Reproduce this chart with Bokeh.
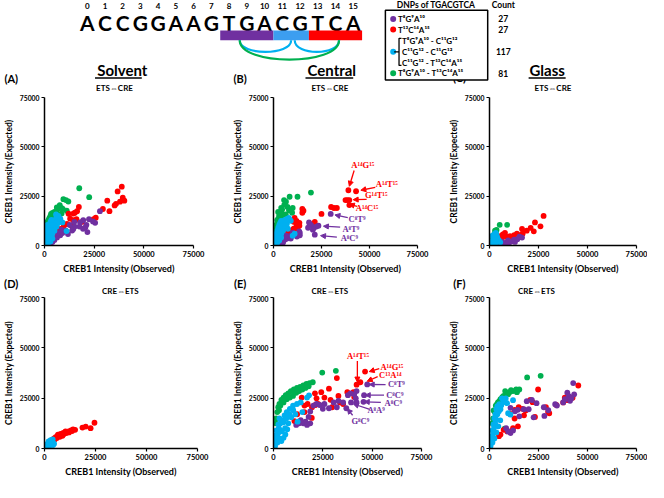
from bokeh.plotting import figure
from bokeh.layouts import column, row
from bokeh.models import Range1d, FixedTicker, NumeralTickFormatter, Arrow, NormalHead, ColumnDataSource
from bokeh.core.properties import value
from bokeh.embed import file_html
from bokeh.resources import INLINE

FONT = "Lato"
SERIF = "Liberation Serif"
PURPLE = "#7030A0"
RED = "#FF0000"
BLUE = "#00B0F0"
GREEN = "#00B050"
BARBLUE = "#3C9EF0"

# ---------------- header data ----------------
seq_letters = list("ACCGGAAGTGACGTCA")
seq_pos = list(range(16))
seg_start = [8, 11, 13]
seg_end = [10, 12, 15]
seg_colors = [PURPLE, BARBLUE, RED]
arc_from = [8.6, 11.7, 8.6]
arc_to = [11.5, 14.2, 14.2]
arc_depth = [12, 12, 20]
arc_colors = [BLUE, BLUE, GREEN]

legend_labels = ["T⁸G⁹A¹⁰", "T¹³C¹⁴A¹⁵", "T⁸G⁹A¹⁰ - C¹¹G¹²", "C¹¹G¹² - C¹¹G¹²",
                 "C¹¹G¹² - T¹³C¹⁴A¹⁵", "T⁸G⁹A¹⁰ - T¹³C¹⁴A¹⁵"]
legend_counts = ["27", "27", "117", "81"]
legend_colors = [PURPLE, RED, BLUE, GREEN]

# ---------------- panel data ----------------
A_green_x = [17500, 22500, 9500, 10800, 12000, 7700, 8500, 6500, 11200, 9200, 5000, 4000, 3300, 4600, 6000, 3000, 2500, 2000, 1500, 1100, 800, 500, 300, 7200, 8600, 5600, 2000, 6200, 3000, 1200]
A_green_y = [29000, 24500, 23500, 23000, 22300, 20500, 19000, 18200, 17600, 18500, 17000, 16500, 16000, 15500, 16700, 15000, 14000, 13000, 12000, 10500, 8500, 7000, 5500, 15200, 16200, 14600, 11000, 19300, 13500, 9300]
A_blue_x = [500, 1000, 1500, 2000, 2500, 3000, 3500, 4000, 4500, 5000, 5500, 6000, 6500, 7000, 5800, 1000, 1500, 2000, 2500, 3000, 3500, 500, 2000, 3000, 4000, 5000, 6000, 6500, 7500, 8000, 11100, 9000, 1000, 2000, 3000, 4000, 200, 400, 1500]
A_blue_y = [1000, 2500, 4000, 5500, 7000, 8000, 9500, 10500, 11500, 12500, 13000, 14000, 14500, 15000, 15700, 5000, 7000, 9000, 10500, 12000, 13000, 3000, 3000, 4000, 6000, 7500, 9500, 11000, 12000, 13500, 7300, 11700, 500, 1500, 2000, 3500, 6500, 8000, 10500]
A_purple_x = [27900, 24400, 22400, 21100, 19500, 20600, 21600, 17600, 15200, 17900, 12700, 13900, 10600, 9000, 7900, 6300, 5000, 4000, 3000, 15000, 11800, 25500, 8500, 14500, 19400, 6800, 2200]
A_purple_y = [17400, 12200, 13300, 10500, 12800, 9200, 6800, 9600, 9600, 11700, 10400, 7600, 7600, 6300, 5200, 4100, 2800, 1800, 1000, 12000, 5800, 11500, 8000, 8400, 8500, 6200, 600]
A_red_x = [38900, 36800, 39400, 40200, 38000, 36000, 35300, 31600, 32700, 29400, 25800, 24700, 17300, 16400, 15300, 14500, 12100, 12900, 14500, 16100, 11300, 9700, 8100, 6800, 5600, 13700, 19000]
A_red_y = [29800, 27400, 24200, 22700, 22200, 21100, 20300, 22700, 17400, 18500, 14100, 13300, 19500, 17400, 16600, 16200, 16100, 13600, 12800, 13300, 10900, 10000, 8400, 7600, 6000, 10000, 12000]

B_green_x = [19500, 12500, 8400, 6500, 5600, 7300, 4500, 8100, 3500, 4800, 2900, 4000, 1900, 3200, 1300, 600, 300, 1900, 6400, 9700, 4000, 2400, 10000, 5500, 1000, 2500, 700]
B_green_y = [26800, 24700, 24700, 22200, 20600, 19500, 18200, 17800, 16600, 15700, 14900, 14100, 12800, 11700, 10500, 7600, 5200, 9200, 15700, 16600, 19000, 17000, 19000, 23000, 8500, 13500, 9500]
B_blue_x = [500, 1000, 1500, 2000, 2500, 3000, 3500, 4000, 4500, 5000, 5500, 6000, 7000, 8000, 8500, 1000, 1500, 2000, 2500, 3000, 3500, 4000, 2000, 3000, 4000, 5000, 6000, 7000, 6000, 11000, 10000, 7500, 1000, 2000, 3000, 4000, 9000]
B_blue_y = [1000, 2000, 3500, 5000, 6500, 8000, 9000, 10000, 11000, 12000, 12500, 13000, 13500, 14000, 13000, 4000, 6000, 7500, 9000, 10500, 11500, 12500, 3000, 4500, 6000, 7500, 9000, 11000, 11500, 6000, 5000, 8500, 1000, 1500, 2500, 4000, 12500]
B_purple_x = [29800, 18500, 19500, 21000, 22300, 23400, 20500, 21500, 13700, 13700, 12200, 9500, 8500, 7000, 6000, 5000, 4000, 3000, 2500, 10000, 13400, 6500, 9000, 11500, 5000, 3500, 18000]
B_purple_y = [16000, 11700, 10500, 9000, 9600, 10000, 8000, 5500, 6500, 5200, 4500, 5000, 4800, 3500, 3000, 2500, 2000, 1500, 1000, 6500, 7200, 5000, 3500, 5500, 1500, 3000, 9000]
B_red_x = [39000, 43000, 37500, 38500, 39500, 39500, 30000, 31500, 33000, 25000, 15000, 15600, 15000, 11000, 12000, 10500, 13500, 12000, 13500, 12500, 10500, 9000, 7500, 6500, 5500, 21500, 20500]
B_red_y = [28000, 27500, 23000, 23000, 23000, 20500, 19500, 19000, 19000, 16000, 18500, 17600, 16600, 14000, 12500, 12000, 11500, 10500, 10000, 8500, 8500, 7500, 7000, 6000, 5000, 12000, 11000]

B_note_text = ["A¹⁴G¹⁵", "A¹⁴T¹⁵", "G¹⁴T¹⁵", "A¹⁴C¹⁵", "C⁸T⁹", "A⁸T⁹", "A⁸C⁹"]
B_note_color = [RED, RED, RED, RED, PURPLE, PURPLE, PURPLE]
B_note_x = [46500, 59000, 53500, 48700, 43500, 40300, 39500]
B_note_y = [40900, 31200, 25500, 19000, 13300, 8400, 3900]
B_arrow_x0 = [42000, 53000, 48500, 43500, 38700, 34700, 33000]
B_arrow_y0 = [38000, 29500, 23400, 19800, 14100, 9300, 4200]
B_arrow_x1 = [39500, 45500, 41500, 39500, 32000, 26000, 24500]
B_arrow_y1 = [30000, 28000, 23200, 21000, 15500, 9800, 5000]

C_green_x = [5200, 9000, 3600, 3200, 2400, 2800, 1800, 1500]
C_green_y = [10500, 10500, 7900, 6900, 5600, 7500, 4500, 3800]
C_blue_x = [800, 1600, 2000, 2700, 3200, 2000, 1100, 4000, 4700, 5500, 3000, 1500, 2500, 3600, 500, 2200, 3000]
C_blue_y = [800, 2400, 4000, 5300, 6400, 2700, 1600, 4000, 2700, 1600, 3500, 5000, 5800, 5200, 2000, 1200, 800]
C_purple_x = [5500, 8700, 11800, 14200, 16600, 7000, 10000, 6300, 9500, 12500, 15300, 4500, 13000, 3800]
C_purple_y = [1100, 1600, 2100, 3200, 4000, 700, 1300, 2000, 2600, 3000, 4500, 1800, 1800, 900]
C_red_x = [27600, 23200, 26000, 21000, 22600, 16600, 16900, 15300, 12600, 11500, 9500, 7900, 6800, 5500, 4900, 6300, 4000, 19000, 14000, 10500, 8500]
C_red_y = [15000, 11700, 9700, 8900, 7200, 8400, 6000, 5300, 5300, 4300, 4000, 6400, 5600, 4800, 4000, 3200, 2700, 7500, 6000, 4800, 4500]

D_blue_x = [1600, 2400, 3200, 4000, 2800, 1300, 4700, 2000, 3500, 1000, 2500, 3800, 500, 4200, 1800, 3000]
D_blue_y = [1300, 2900, 3700, 4500, 2100, 800, 2400, 3500, 2500, 2000, 1500, 3400, 500, 1700, 600, 4200]
D_red_x = [24500, 22600, 20200, 18600, 15000, 13000, 11800, 10700, 9500, 8400, 7100, 6300, 5500, 4700, 4000, 10300, 9200, 7900, 6600, 12000, 8800, 6000, 14000, 13500, 7500, 5000, 3500]
D_red_y = [12800, 10100, 10900, 10400, 9300, 9000, 8500, 7700, 7200, 6900, 6400, 6100, 5600, 5000, 4300, 8500, 7700, 7200, 6900, 8000, 6300, 5200, 9500, 8700, 5800, 4500, 3800]

E_green_x = [1900, 2400, 3000, 4000, 5100, 6200, 7500, 8800, 10300, 11900, 13500, 15100, 16700, 18300, 19900, 3500, 5100, 6700, 8300, 9900, 11500, 13000, 14600, 16200, 17800, 1400, 1100, 24700, 31600, 2800, 4500, 7000, 10500, 13800, 17000, 12000]
E_green_y = [18100, 20500, 22100, 24200, 25300, 26500, 27400, 28500, 29300, 30100, 30600, 31300, 32100, 32500, 32900, 21300, 22900, 24500, 25300, 26100, 27700, 28500, 29300, 30100, 30900, 14900, 12500, 37700, 38600, 19000, 23000, 25800, 28000, 29800, 31500, 29000]
E_blue_x = [800, 1400, 1100, 1900, 2400, 2700, 3500, 4300, 5600, 6700, 8300, 9900, 11900, 13800, 17000, 18000, 4300, 5900, 7500, 4000, 5100, 2000, 3000, 3500, 5000, 6500, 8000, 10000, 12200, 14600, 2500, 1500, 3000, 6000, 7000, 9000, 11000, 1200]
E_blue_y = [1300, 2900, 4500, 6100, 7700, 10100, 12500, 14100, 16500, 18100, 19700, 21300, 22100, 22900, 25300, 26400, 8500, 10100, 12500, 3700, 5300, 3000, 5000, 9000, 13000, 15000, 17000, 19000, 13300, 18100, 12000, 9000, 15000, 7000, 9500, 15500, 17000, 6500]
E_purple_x = [47500, 42100, 40900, 41700, 42100, 39000, 37700, 35300, 32100, 32900, 30500, 36900, 39300, 21800, 20200, 18600, 17800, 16200, 15100, 13000, 11500, 13800, 18600, 17000, 25000, 23400, 25800, 28100, 45900, 45600]
E_purple_y = [31800, 28500, 26900, 24900, 22900, 27400, 26500, 22900, 20500, 23700, 22900, 20000, 22900, 22100, 21300, 18400, 15700, 13300, 12500, 12500, 11700, 14100, 12500, 11700, 19700, 21600, 22100, 20000, 26500, 23200]
E_red_x = [46400, 44000, 42100, 40500, 37400, 32100, 28100, 25800, 24200, 21800, 21000, 22600, 17300, 15700, 15700, 19400, 14300, 28900, 29700, 32900, 33700, 35300, 40900, 10600, 19500, 12000, 21000]
E_red_y = [38200, 32900, 31700, 28000, 28000, 35000, 29700, 25300, 28000, 24900, 27400, 22100, 22100, 21300, 18100, 15200, 25300, 24200, 20500, 26100, 22900, 22100, 25600, 13600, 20500, 17000, 21500]

E_note_text = ["A¹⁴T¹⁵", "A¹⁴G¹⁵", "C¹³A¹⁴", "C⁸T⁹", "C⁸C⁹", "A⁸C⁹", "A⁸A⁹", "G⁸C⁹"]
E_note_color = [RED, RED, RED, PURPLE, PURPLE, PURPLE, PURPLE, PURPLE]
E_note_x = [42800, 60000, 59200, 62300, 61500, 60700, 52000, 44000]
E_note_y = [45700, 40600, 36500, 32200, 26500, 22400, 18900, 13600]
E_arrow_x0 = [42500, 53600, 52800, 56800, 56000, 54400, 48800, 40100]
E_arrow_y0 = [43400, 39700, 35700, 31700, 26500, 22900, 19400, 16500]
E_arrow_x1 = [42500, 48500, 47500, 48500, 46500, 46000, 40500, 37400]
E_arrow_y1 = [33000, 38200, 33400, 31800, 26500, 23200, 22100, 19700]

F_green_x = [19200, 26100, 2100, 3200, 4300, 5600, 7200, 8800, 10400, 12000, 13600, 15200, 8000, 5000, 3800, 2700, 1900, 1500, 7700, 6500, 9500, 11000, 14000, 4500]
F_green_y = [35300, 36100, 18900, 21300, 22900, 24500, 26100, 27400, 28100, 28500, 29300, 29300, 28500, 23500, 22000, 18100, 14900, 12500, 9800, 25500, 27000, 29000, 28000, 21000]
F_blue_x = [500, 800, 1100, 1600, 2100, 2400, 2900, 3400, 4000, 4800, 5600, 6400, 8300, 10700, 1000, 1500, 2000, 2500, 3000, 3500, 4000, 5000, 6000, 7000, 9000, 12000, 1500, 2500, 3500, 4500, 9500, 5500]
F_blue_y = [1000, 2500, 4500, 6500, 8500, 10500, 12500, 14500, 17000, 18500, 19500, 24900, 24900, 16800, 6000, 9000, 12000, 15000, 17000, 19500, 21000, 22000, 21500, 23000, 22500, 24000, 3000, 5000, 8000, 11000, 17500, 14000]
F_purple_x = [42700, 39700, 43200, 41100, 37600, 34400, 21600, 27700, 28000, 10700, 14400, 15200, 8500, 10700, 40500, 38500, 20000, 30000, 17500, 13000, 24000, 12000, 33500, 9500, 22500, 41800, 19000]
F_purple_y = [32500, 27700, 26900, 23700, 22900, 21300, 24100, 20500, 16200, 20200, 19200, 16000, 10100, 7700, 26000, 24500, 19500, 19000, 19500, 18500, 22500, 9000, 22000, 8500, 15500, 25000, 23500]
F_red_x = [45300, 38400, 42400, 37600, 34100, 28800, 29900, 24800, 20800, 23200, 18400, 16800, 14900, 12800, 12800, 12000, 7200, 9100, 10700, 5600, 4800, 17600, 10400, 30500, 40000, 22000, 14500]
F_red_y = [31300, 25200, 25200, 22900, 21600, 20500, 18100, 29300, 24200, 15700, 18900, 19700, 20500, 19200, 14900, 10100, 9300, 8500, 8500, 6900, 6100, 16500, 17300, 17500, 24000, 23000, 11000]

axis_ticks = [0, 25000, 50000, 75000]
panel_letters_top = ["(A)", "(B)", "(C)"]
panel_letters_bottom = ["(D)", "(E)", "(F)"]
column_titles = ["Solvent", "Central", "Glass"]

# ---------------- geometry (reference pixels -> page pixels) ----------------
TOTAL_W, TOTAL_H = 647, 481
SX = TOTAL_W / 664.0
SY = TOTAL_H / 498.0


def X(v):
    return int(round(v * SX))


def Y(v):
    return int(round(v * SY))


SEQ_X0, SEQ_DX = 89.0, 18.2


def hx(ref_x):
    return (ref_x - SEQ_X0) / SEQ_DX


def txt(p, x, y, t, size, color="black", align="center", font=FONT, style="bold"):
    p.text(x=x, y=y, text=t, text_font=value(font), text_font_style=style,
           text_font_size=size, text_color=color, text_align=align, text_baseline="middle")


def blank(w, h, xr, yr):
    p = figure(width=w, height=h, x_range=xr, y_range=yr, output_backend="svg",
               toolbar_location=None, x_axis_type=None, y_axis_type=None,
               min_border_left=0, min_border_right=0, min_border_top=0, min_border_bottom=0)
    p.outline_line_color = None
    return p


# ---------------- header ----------------
HB = 97
head = blank(TOTAL_W, Y(HB), Range1d(hx(0), hx(664)), Range1d(HB, 0))
txt(head, seq_pos, [6] * 16, [str(i) for i in seq_pos], "8px")
txt(head, seq_pos, [23] * 16, seq_letters, "21px")
head.quad(left=[s - 0.5 for s in seg_start], right=[e + 0.5 for e in seg_end],
          top=[31] * 3, bottom=[41] * 3, fill_color=seg_colors, line_color=None)
head.bezier(x0=arc_from, y0=[41] * 3, x1=arc_to, y1=[41] * 3,
            cx0=arc_from, cy0=[41 + d / 0.75 for d in arc_depth],
            cx1=arc_to, cy1=[41 + d / 0.75 for d in arc_depth],
            line_color=arc_colors, line_width=2.2)
title_x = [hx(125), hx(340), hx(561)]
txt(head, title_x, [72] * 3, column_titles, "15px")
head.segment(x0=[hx(97), hx(313), hx(542)], y0=[80] * 3, x1=[hx(145), hx(362), hx(580)], y1=[80] * 3,
             line_color="black", line_width=1.5)
txt(head, [hx(11), hx(246), hx(471)], [81, 81, 79], panel_letters_top, "11px")
txt(head, [hx(117), hx(338), hx(567)], [90.5] * 3, ["ETS⇔CRE"] * 3, "8px")
# legend box
head.quad(left=[hx(395)], right=[hx(500)], top=[10], bottom=[82], fill_color="white",
          line_color="black", line_width=1.5)
txt(head, [hx(447)], [5], ["DNPs of TGACGTCA"], "8.5px")
txt(head, [hx(516)], [5], ["Count"], "8.5px")
head.scatter(x=[hx(403)] * 4, y=[19, 30, 53, 75], size=6, color=legend_colors, line_color=None)
txt(head, [hx(408), hx(408)], [19, 30], legend_labels[:2], "8px", align="left")
txt(head, [hx(412)] * 3, [42, 53, 64], legend_labels[2:5], "8px", align="left")
txt(head, [hx(408)], [75], legend_labels[5:], "8px", align="left")
head.multi_line(xs=[[hx(411.5), hx(409), hx(409), hx(411.5)], [hx(404), hx(409)]],
                ys=[[39, 39, 67, 67], [53, 53]], line_color="black", line_width=1.3)
txt(head, [hx(516)] * 4, [19, 30, 53, 75], legend_counts, "8.5px")


# ---------------- panels ----------------
def panel(w, h, left, right, top, bottom, series, notes=None):
    p = figure(width=w, height=h, x_range=Range1d(0, 75000), y_range=Range1d(0, 75000),
               output_backend="svg", toolbar_location=None,
               min_border_left=left, min_border_right=right, min_border_top=top, min_border_bottom=bottom,
               x_axis_label="CREB1 Intensity (Observed)", y_axis_label="CREB1 Intensity (Expected)")
    p.outline_line_color = None
    p.grid.visible = False
    for ax, lsize, tsize in ((p.xaxis[0], "7.5px", "9px"), (p.yaxis[0], "6.8px", "8.5px")):
        ax.ticker = FixedTicker(ticks=axis_ticks)
        ax.formatter = NumeralTickFormatter(format="0")
        ax.axis_line_width = 1.5
        ax.axis_line_color = "black"
        ax.major_tick_out = 3
        ax.major_tick_in = 0
        ax.major_tick_line_width = 1.2
        ax.minor_tick_out = 0
        ax.minor_tick_in = 0
        ax.major_label_standoff = 2
        ax.axis_label_standoff = 3
        ax.major_label_text_font = FONT
        ax.major_label_text_font_style = "bold"
        ax.major_label_text_font_size = lsize
        ax.major_label_text_color = "black"
        ax.axis_label_text_font = FONT
        ax.axis_label_text_font_style = "bold"
        ax.axis_label_text_font_size = tsize
        ax.axis_label_text_color = "black"
    for xs, ys, c in series:
        if xs:
            p.scatter(x=xs, y=ys, size=5.8, fill_color=c, line_color=None)
    if notes:
        text, colors, tx, ty, x0, y0, x1, y1 = notes
        for col in (RED, PURPLE):
            idx = [i for i, c in enumerate(colors) if c == col]
            src = ColumnDataSource(dict(x0=[x0[i] for i in idx], y0=[y0[i] for i in idx],
                                        x1=[x1[i] for i in idx], y1=[y1[i] for i in idx]))
            p.add_layout(Arrow(source=src, x_start="x0", y_start="y0", x_end="x1", y_end="y1",
                               line_color=col, line_width=1.3,
                               end=NormalHead(size=5, fill_color=col, line_color=col)))
        p.text(x=tx, y=ty, text=text, text_color=colors, text_font=value(SERIF),
               text_font_style="bold", text_font_size="8.5px", text_align="center", text_baseline="middle")
    return p


R1_TOP, R1_BOT = 97, 286
R2_TOP, R2_BOT = 305, 498
h1 = Y(R1_BOT) - Y(R1_TOP)
h2 = TOTAL_H - Y(R2_TOP)
wA = X(235)
wB = X(457) - X(235)
wC = TOTAL_W - X(457)

row1_top = Y(100) - Y(R1_TOP)
row1_bot = Y(R1_BOT) - Y(254)
row2_top = Y(308) - Y(R2_TOP)
row2_bot = TOTAL_H - Y(464)

pA = panel(wA, h1, X(43), wA - X(198), row1_top, row1_bot,
           [(A_green_x, A_green_y, GREEN), (A_red_x, A_red_y, RED), (A_purple_x, A_purple_y, PURPLE), (A_blue_x, A_blue_y, BLUE)])
pB = panel(wB, h1, X(273) - X(235), X(457) - X(428), row1_top, row1_bot,
           [(B_green_x, B_green_y, GREEN), (B_red_x, B_red_y, RED), (B_purple_x, B_purple_y, PURPLE), (B_blue_x, B_blue_y, BLUE)],
           (B_note_text, B_note_color, B_note_x, B_note_y, B_arrow_x0, B_arrow_y0, B_arrow_x1, B_arrow_y1))
pC = panel(wC, h1, X(495) - X(457), TOTAL_W - X(653), row1_top, row1_bot,
           [(C_green_x, C_green_y, GREEN), (C_red_x, C_red_y, RED), (C_purple_x, C_purple_y, PURPLE), (C_blue_x, C_blue_y, BLUE)])

pD = panel(wA, h2, X(43), wA - X(202), row2_top, row2_bot,
           [(D_red_x, D_red_y, RED), (D_blue_x, D_blue_y, BLUE)])
pE = panel(wB, h2, X(274) - X(235), X(457) - X(432), row2_top, row2_bot,
           [(E_green_x, E_green_y, GREEN), (E_red_x, E_red_y, RED), (E_purple_x, E_purple_y, PURPLE), (E_blue_x, E_blue_y, BLUE)],
           (E_note_text, E_note_color, E_note_x, E_note_y, E_arrow_x0, E_arrow_y0, E_arrow_x1, E_arrow_y1))
pF = panel(wC, h2, X(495) - X(457), TOTAL_W - X(653), row2_top, row2_bot,
           [(F_green_x, F_green_y, GREEN), (F_red_x, F_red_y, RED), (F_purple_x, F_purple_y, PURPLE), (F_blue_x, F_blue_y, BLUE)])

# ---------------- strip between rows ----------------
strip = blank(TOTAL_W, Y(R2_TOP) - Y(R1_BOT), Range1d(0, 664), Range1d(R2_TOP, R1_BOT))
txt(strip, [11, 246, 471], [293] * 3, panel_letters_bottom, "11px")
txt(strip, [123, 338, 550], [300] * 3, ["CRE⇔ETS"] * 3, "8px")

layout = column(head, row(pA, pB, pC), strip, row(pD, pE, pF))

with open("out.html", "w") as f:
    f.write(file_html(layout, INLINE))
